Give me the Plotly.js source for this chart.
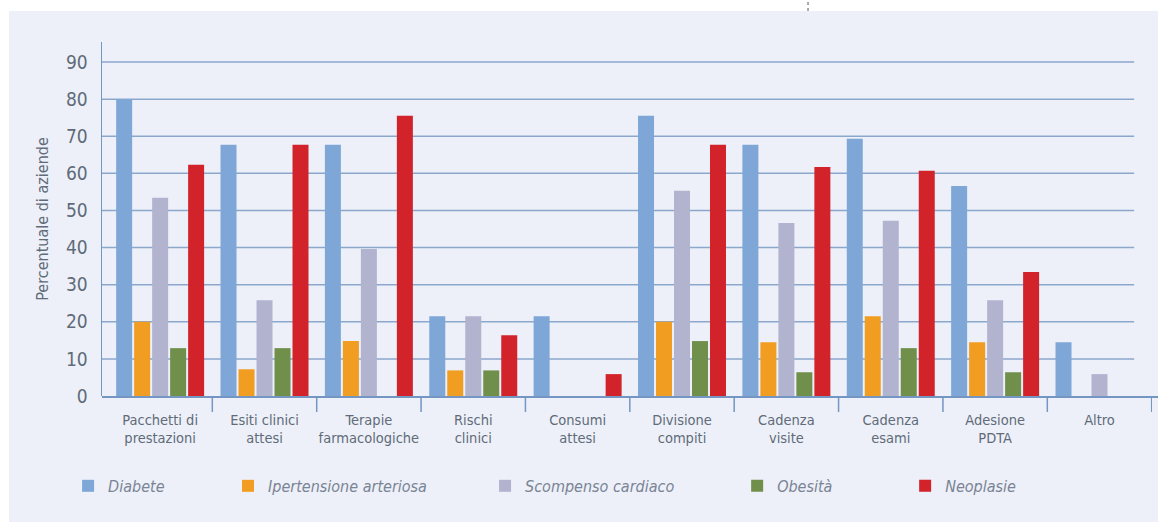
<!DOCTYPE html>
<html>
<head>
<meta charset="utf-8">
<script src="https://cdn.plot.ly/plotly-3.0.1.min.js"></script>
<style>
  html, body { margin: 0; padding: 0; background: #ffffff; }
  #chart { width: 1158px; height: 522px; }
</style>
</head>
<body>
<div id="chart"></div>
<script>
// Categories (x axis) and per-disease percentages
const categories = [
  'Pacchetti di<br>prestazioni',
  'Esiti clinici<br>attesi',
  'Terapie<br>farmacologiche',
  'Rischi<br>clinici',
  'Consumi<br>attesi',
  'Divisione<br>compiti',
  'Cadenza<br>visite',
  'Cadenza<br>esami',
  'Adesione<br>PDTA',
  'Altro'
];

const diabete      = [80.0, 67.7, 67.7, 21.5, 21.5, 75.5, 67.7, 69.3, 56.6, 14.5];
const ipertensione = [20.0,  7.2, 14.8,  6.9, null, 20.0, 14.5, 21.5, 14.5, null];
const scompenso    = [53.4, 25.8, 39.6, 21.5, null, 55.3, 46.6, 47.2, 25.8,  5.9];
const obesita      = [12.9, 12.9, null,  6.9, null, 14.8,  6.4, 12.9,  6.4, null];
const neoplasie    = [62.3, 67.7, 75.5, 16.4,  5.9, 67.7, 61.7, 60.7, 33.4, null];

const seriesNames  = ['Diabete', 'Ipertensione arteriosa', 'Scompenso cardiaco', 'Obesità', 'Neoplasie'];
const seriesValues = [diabete, ipertensione, scompenso, obesita, neoplasie];
const seriesColors = ['#7ea7d8', '#f09d21', '#b2b3ce', '#6f8f4b', '#d2232a'];

const yTickValues = [0, 10, 20, 30, 40, 50, 60, 70, 80, 90];

// Left edge of each legend entry (paper units), one legend per series
const legendX = [-0.0323, 0.1200, 0.3648, 0.6049, 0.7649];

const FONT = '"Liberation Sans Narrow", "DejaVu Sans Condensed", "Roboto Condensed", "Arial Narrow", sans-serif';
const AXIS_BLUE = '#7396c2';
const GRID_BLUE = '#8ba7cc';
const TEXT_GREY = '#5f6b78';

const traces = seriesNames.map((name, i) => ({
  type: 'bar',
  name: name,
  x: categories,
  y: seriesValues[i],
  marker: { color: seriesColors[i], line: { width: 0 } },
  legend: i === 0 ? 'legend' : 'legend' + (i + 1),
  hoverinfo: 'x+y+name'
}));

const shapes = [];

// Panel background
shapes.push({
  type: 'rect', xref: 'paper', yref: 'paper',
  x0: -0.0886, x1: 1.05, y0: -0.45, y1: 1.0876,
  fillcolor: '#edf0f9', line: { width: 0 }, layer: 'below'
});

// Horizontal gridlines, stopping short of the last category
yTickValues.filter(v => v > 0).forEach(v => {
  shapes.push({
    type: 'line', xref: 'paper', yref: 'y',
    x0: 0, x1: 0.983, y0: v, y1: v,
    line: { color: GRID_BLUE, width: 1.5 }, layer: 'below'
  });
});

// Baseline running to the right edge
shapes.push({
  type: 'line', xref: 'paper', yref: 'paper',
  x0: 0, x1: 1.01, y0: -0.003, y1: -0.003,
  line: { color: AXIS_BLUE, width: 2 }
});

// Category separators below the baseline
categories.forEach((c, k) => {
  shapes.push({
    type: 'line', xref: 'x', yref: 'paper',
    x0: k + 0.5, x1: k + 0.5, y0: -0.003, y1: -0.045,
    line: { color: AXIS_BLUE, width: 1.5 }
  });
});

// Small dotted crop mark at the top
shapes.push({
  type: 'line', xref: 'paper', yref: 'paper',
  x0: 0.6724, x1: 0.6724, y0: 1.0876, y1: 1.12,
  line: { color: '#555555', width: 1, dash: 'dot' }
});

const legendBase = {
  orientation: 'h',
  y: -0.254, yanchor: 'middle', xanchor: 'left',
  bgcolor: 'rgba(0,0,0,0)', borderwidth: 0,
  font: { family: FONT, size: 16, color: '#7a8494', style: 'italic' },
  itemclick: false, itemdoubleclick: false
};

const layout = {
  width: 1158,
  height: 522,
  margin: { l: 102, r: 6, t: 42, b: 126 },
  paper_bgcolor: '#ffffff',
  plot_bgcolor: 'rgba(0,0,0,0)',
  barmode: 'group',
  bargap: 0.138,
  bargroupgap: 0.111,
  showlegend: true,
  xaxis: {
    type: 'category',
    range: [-0.557, 9.503],
    showgrid: false,
    showline: false,
    zeroline: false,
    ticks: '',
    ticklabelstandoff: 13,
    tickfont: { family: FONT, size: 14.5, color: TEXT_GREY },
    fixedrange: true
  },
  yaxis: {
    range: [0, 95.4],
    tickvals: yTickValues,
    showgrid: false,
    zeroline: false,
    showline: true,
    linecolor: AXIS_BLUE,
    linewidth: 1.5,
    ticks: '',
    ticklabelstandoff: 9,
    tickfont: { family: FONT, size: 19, color: TEXT_GREY },
    title: {
      text: 'Percentuale di aziende',
      font: { family: FONT, size: 16, color: TEXT_GREY },
      standoff: 13
    },
    fixedrange: true
  },
  shapes: shapes
};

layout.legend = Object.assign({}, legendBase, { x: legendX[0] });
for (let i = 1; i < seriesNames.length; i++) {
  layout['legend' + (i + 1)] = Object.assign({}, legendBase, { x: legendX[i] });
}

Plotly.newPlot('chart', traces, layout, { displayModeBar: false, staticPlot: true });
</script>
</body>
</html>
